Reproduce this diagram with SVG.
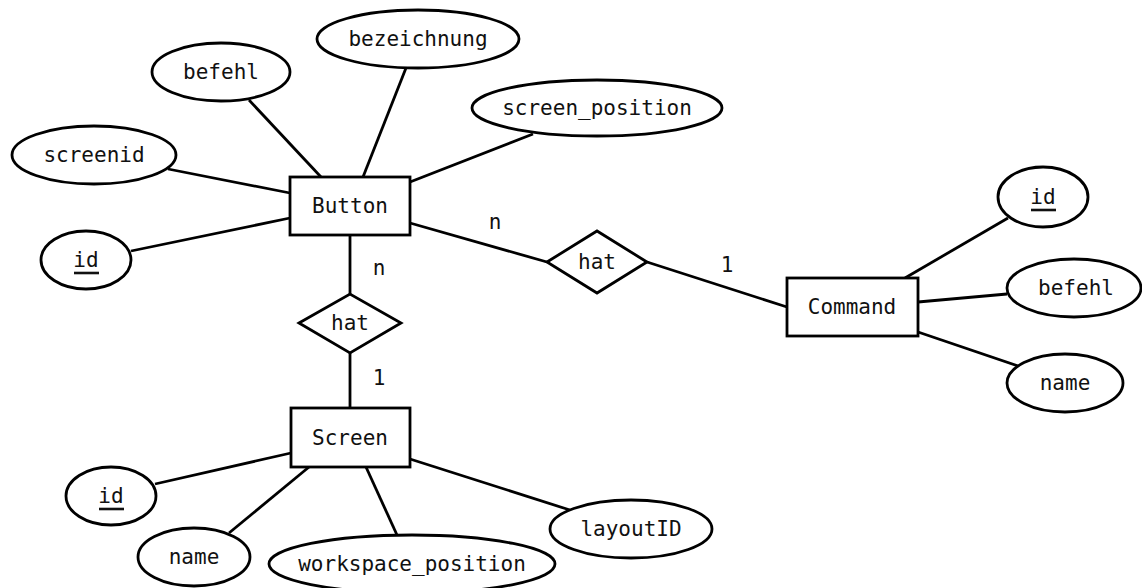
<svg xmlns="http://www.w3.org/2000/svg" width="1142" height="588" viewBox="0 0 1142 588">
  <style>
    .shape { fill: #ffffff; stroke: #000000; stroke-width: 2.8; }
    .edge { stroke: #000000; stroke-width: 2.8; fill: none; }
    .lbl { font-family: "DejaVu Sans Mono", "Liberation Mono", monospace; font-size: 21px; fill: #111111; text-anchor: middle; }
    .key { stroke: #111111; stroke-width: 2.6; }
  </style>
  <rect width="1142" height="588" fill="#ffffff"/>

  <!-- connectors -->
  <g id="connectors">
    <line class="edge" x1="249" y1="100" x2="321" y2="177"/>
    <line class="edge" x1="406" y1="68" x2="363" y2="177"/>
    <line class="edge" x1="533" y1="134" x2="410" y2="182"/>
    <line class="edge" x1="168" y1="169" x2="290" y2="193"/>
    <line class="edge" x1="131" y1="251" x2="290" y2="218"/>
    <line class="edge" x1="410" y1="223" x2="547" y2="262"/>
    <line class="edge" x1="350" y1="235" x2="350" y2="294"/>
    <line class="edge" x1="647" y1="262" x2="787" y2="307"/>
    <line class="edge" x1="1008" y1="218" x2="905" y2="278"/>
    <line class="edge" x1="918" y1="302" x2="1007" y2="294"/>
    <line class="edge" x1="918" y1="332" x2="1018" y2="366"/>
    <line class="edge" x1="350" y1="353" x2="350" y2="408"/>
    <line class="edge" x1="155" y1="484" x2="291" y2="453"/>
    <line class="edge" x1="229" y1="533" x2="309" y2="467"/>
    <line class="edge" x1="366" y1="467" x2="397" y2="535"/>
    <line class="edge" x1="410" y1="459" x2="570" y2="510"/>
    <text class="lbl" x="495" y="229">n</text>
    <text class="lbl" x="379" y="275">n</text>
    <text class="lbl" x="727" y="272">1</text>
    <text class="lbl" x="379" y="385">1</text>
  </g>

  <!-- entities -->
  <g id="button">
    <rect class="shape" x="290" y="177" width="120" height="58"/>
    <text class="lbl" x="350" y="213">Button</text>
  </g>
  <g id="command">
    <rect class="shape" x="787" y="278" width="131" height="58"/>
    <text class="lbl" x="852" y="314">Command</text>
  </g>
  <g id="screen">
    <rect class="shape" x="291" y="408" width="119" height="59"/>
    <text class="lbl" x="350" y="445">Screen</text>
  </g>

  <!-- relationships -->
  <g id="hat-command">
    <polygon class="shape" points="547,262 597,231 647,262 597,293"/>
    <text class="lbl" x="597" y="269">hat</text>
  </g>
  <g id="hat-screen">
    <polygon class="shape" points="299,323 350,294 401,323 350,353"/>
    <text class="lbl" x="350" y="330">hat</text>
  </g>

  <!-- Button attributes -->
  <g id="button-befehl">
    <ellipse class="shape" cx="221" cy="72" rx="69" ry="29"/>
    <text class="lbl" x="221" y="79">befehl</text>
  </g>
  <g id="button-bezeichnung">
    <ellipse class="shape" cx="418" cy="39" rx="101" ry="29"/>
    <text class="lbl" x="418" y="46">bezeichnung</text>
  </g>
  <g id="button-screen-position">
    <ellipse class="shape" cx="597" cy="108" rx="125" ry="28"/>
    <text class="lbl" x="597" y="115">screen_position</text>
  </g>
  <g id="button-screenid">
    <ellipse class="shape" cx="94" cy="155" rx="82" ry="29"/>
    <text class="lbl" x="94" y="162">screenid</text>
  </g>
  <g id="button-id">
    <ellipse class="shape" cx="86" cy="260" rx="45" ry="29"/>
    <text class="lbl" x="86" y="267">id</text>
    <line class="key" x1="74" y1="273" x2="99" y2="273"/>
  </g>

  <!-- Command attributes -->
  <g id="command-id">
    <ellipse class="shape" cx="1043" cy="197" rx="45" ry="30"/>
    <text class="lbl" x="1043" y="204">id</text>
    <line class="key" x1="1031" y1="210" x2="1056" y2="210"/>
  </g>
  <g id="command-befehl">
    <ellipse class="shape" cx="1074" cy="288" rx="67" ry="29"/>
    <text class="lbl" x="1076" y="295">befehl</text>
  </g>
  <g id="command-name">
    <ellipse class="shape" cx="1065" cy="383" rx="58" ry="29"/>
    <text class="lbl" x="1065" y="390">name</text>
  </g>

  <!-- Screen attributes -->
  <g id="screen-id">
    <ellipse class="shape" cx="111" cy="496" rx="45" ry="29"/>
    <text class="lbl" x="111" y="503">id</text>
    <line class="key" x1="99" y1="509" x2="124" y2="509"/>
  </g>
  <g id="screen-name">
    <ellipse class="shape" cx="194" cy="557" rx="56" ry="29"/>
    <text class="lbl" x="194" y="564">name</text>
  </g>
  <g id="screen-workspace-position">
    <ellipse class="shape" cx="412" cy="564" rx="143" ry="29"/>
    <text class="lbl" x="412" y="571">workspace_position</text>
  </g>
  <g id="screen-layoutid">
    <ellipse class="shape" cx="631" cy="529" rx="81" ry="29"/>
    <text class="lbl" x="631" y="536">layoutID</text>
  </g>
</svg>
